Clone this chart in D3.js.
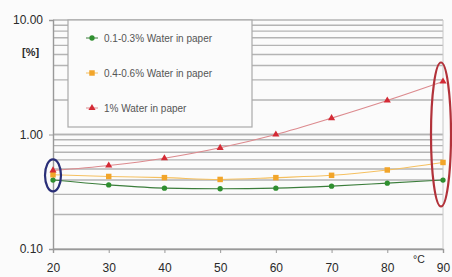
<!DOCTYPE html>
<html>
<head>
<meta charset="utf-8">
<script src="https://cdn.jsdelivr.net/npm/d3@7"></script>
<style>
  body { margin: 0; background: #fff; }
  svg { font-family: "Liberation Sans", Arial, sans-serif; }
</style>
</head>
<body>
<svg id="chart" width="452" height="277"></svg>
<script>
// data
var temps = [20, 30, 40, 50, 60, 70, 80, 90];
var lowWater = [0.40, 0.363, 0.34, 0.336, 0.34, 0.354, 0.376, 0.40];
var midWater = [0.445, 0.43, 0.42, 0.405, 0.42, 0.44, 0.49, 0.57];
var highWater = [0.485, 0.536, 0.62, 0.765, 1.0, 1.39, 1.98, 2.9];
var seriesNames = ["0.1-0.3% Water in paper", "0.4-0.6% Water in paper", "1% Water in paper"];
var yTicks = [0.1, 1, 10];

var svg = d3.select('#chart');
var margin = {left: 53, right: 9, top: 20, bottom: 28};
var width = 452, height = 277;

svg.append('rect').attr('width', width).attr('height', height).attr('fill', '#fbfbfb');

var x = d3.scaleLinear().domain([20, 90]).range([margin.left, width - margin.right]);
var y = d3.scaleLog().domain([0.1, 10]).range([height - margin.bottom, margin.top]);

// horizontal grid at every log step
var gridVals = [];
[0.1, 1].forEach(function(dec){
    for (var k = 1; k <= 10; k++) gridVals.push(dec * k);
});
svg.append('g').selectAll('line').data(gridVals).enter().append('line')
    .attr('x1', margin.left).attr('x2', x(90))
    .attr('y1', function(d){return y(d)}).attr('y2', function(d){return y(d)})
    .attr('stroke', '#b4b4b4').attr('stroke-width', 1.4);

// axes
var yAxis = svg.append('g').attr('transform', 'translate(' + margin.left + ',0)')
    .call(d3.axisLeft(y).tickValues(yTicks).tickFormat(d3.format('.2f')).tickSize(4));
var xAxis = svg.append('g').attr('transform', 'translate(0,' + y(0.1) + ')')
    .call(d3.axisBottom(x).tickValues(temps).tickFormat(d3.format('d')).tickSize(4).tickPadding(10));
[yAxis, xAxis].forEach(function(a){
    a.select('.domain').attr('stroke', '#999').attr('stroke-width', 1.4);
    a.selectAll('.tick line').attr('stroke', '#999');
    a.selectAll('text').attr('fill', '#2a2a2a').style('font-size', '12px');
});
yAxis.selectAll('text').attr('x', -10).attr('dy', '0.32em');
svg.append('line').attr('x1', x(90)).attr('x2', x(90)).attr('y1', y(10)).attr('y2', y(0.1))
    .attr('stroke', '#c8c8c8').attr('stroke-width', 1);

svg.append('text').attr('x', 22).attr('y', 56).text('[%]')
    .attr('fill', '#2a2a2a').style('font-size', '11px').style('font-weight', 'bold');
svg.append('text').attr('x', 413).attr('y', 263).text('°C')
    .attr('fill', '#2a2a2a').style('font-size', '10.5px');

// legend box (drawn over the grid)
var legend = svg.append('g');
legend.append('rect').attr('x', 68).attr('y', 20).attr('width', 184).attr('height', 107)
    .attr('fill', '#fbfbfb').attr('stroke', '#aaa').attr('stroke-width', 1.2);

var series = [
    {name: seriesNames[0], values: lowWater, color: '#2f8f2f', line: '#3b7d3b', shape: d3.symbolCircle, size: 22},
    {name: seriesNames[1], values: midWater, color: '#f2a52a', line: '#f5c060', shape: d3.symbolSquare, size: 30},
    {name: seriesNames[2], values: highWater, color: '#d42a35', line: '#dc8a8e', shape: d3.symbolTriangle, size: 22}
];

var lineGen = d3.line()
    .x(function(d){return x(d.t)})
    .y(function(d){return y(d.v)})
    .curve(d3.curveMonotoneX);

series.forEach(function(s, i){
    var pts = temps.map(function(t, j){return {t: t, v: s.values[j]}});
    svg.append('path').attr('d', lineGen(pts))
        .attr('fill', 'none').attr('stroke', s.line).attr('stroke-width', 1.1);
    svg.append('g').selectAll('path').data(pts).enter().append('path')
        .attr('d', d3.symbol().type(s.shape).size(s.size))
        .attr('transform', function(d){return 'translate(' + x(d.t) + ',' + y(d.v) + ')'})
        .attr('fill', s.color);

    var ly = 38 + i * 35;
    legend.append('line').attr('x1', 86).attr('x2', 98).attr('y1', ly).attr('y2', ly)
        .attr('stroke', s.line).attr('stroke-width', 1);
    legend.append('path').attr('d', d3.symbol().type(s.shape).size(s.size))
        .attr('transform', 'translate(92,' + ly + ')').attr('fill', s.color);
    legend.append('text').attr('x', 104).attr('y', ly).attr('dy', '0.35em').text(s.name)
        .attr('fill', '#555').style('font-size', '10px');
});

// highlight ellipses
svg.append('ellipse').attr('cx', x(20)).attr('cy', y(0.44)).attr('rx', 8).attr('ry', 16)
    .attr('fill', 'none').attr('stroke', '#2a2f78').attr('stroke-width', 2.2);
svg.append('ellipse').attr('cx', x(90) - 2).attr('cy', y(1.0)).attr('rx', 10).attr('ry', 72)
    .attr('fill', 'none').attr('stroke', '#b2323a').attr('stroke-width', 2.2);
</script>
</body>
</html>
